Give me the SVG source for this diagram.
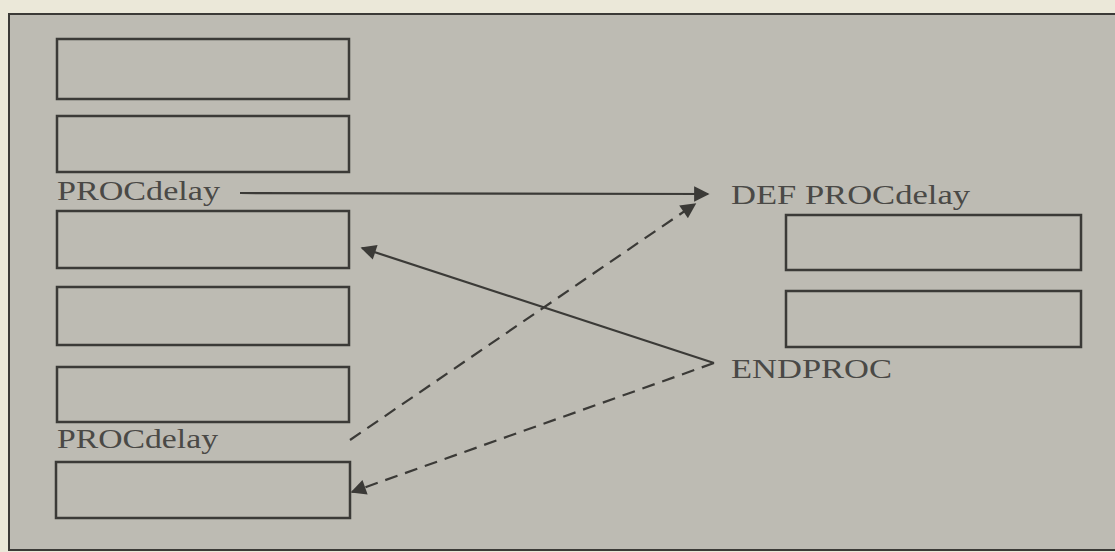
<svg xmlns="http://www.w3.org/2000/svg" width="1115" height="552" viewBox="0 0 1115 552">
<style>
.box{fill:none;stroke:#3b3a37;stroke-width:2.5}
.lbl{font-family:"Liberation Serif","Times New Roman",serif;font-size:28px;fill:#4a4946}
.ln{fill:none;stroke:#3b3a37;stroke-width:2.2}
.dash{stroke-dasharray:13 8}
</style>
<defs>
<marker id="ah" viewBox="0 0 10 10" refX="9" refY="5" markerWidth="7.5" markerHeight="7" markerUnits="strokeWidth" orient="auto">
<path d="M0,0 L10,5 L0,10 z" fill="#3b3a37"/>
</marker>
</defs>
<rect x="0" y="0" width="1115" height="552" fill="#ebe8d9"/>
<rect x="9" y="14" width="1120" height="536" fill="#bdbbb3" stroke="#3b3a37" stroke-width="2"/>
<g id="left-1"><rect class="box" x="57" y="39" width="292" height="60"/></g>
<g id="left-2"><rect class="box" x="57" y="116" width="292" height="56"/></g>
<g id="call-1"><text class="lbl" x="57" y="200" textLength="163" lengthAdjust="spacingAndGlyphs">PROCdelay</text></g>
<g id="left-3"><rect class="box" x="57" y="211" width="292" height="57"/></g>
<g id="left-4"><rect class="box" x="57" y="287" width="292" height="58"/></g>
<g id="left-5"><rect class="box" x="57" y="367" width="292" height="55"/></g>
<g id="call-2"><text class="lbl" x="57" y="448" textLength="161" lengthAdjust="spacingAndGlyphs">PROCdelay</text></g>
<g id="left-6"><rect class="box" x="56" y="462" width="294" height="56"/></g>
<g id="def"><text class="lbl" x="731" y="204" textLength="239" lengthAdjust="spacingAndGlyphs">DEF PROCdelay</text></g>
<g id="right-1"><rect class="box" x="786" y="215" width="295" height="55"/></g>
<g id="right-2"><rect class="box" x="786" y="291" width="295" height="56"/></g>
<g id="endproc"><text class="lbl" x="731" y="378" textLength="161" lengthAdjust="spacingAndGlyphs">ENDPROC</text></g>
<g id="connectors">
<line class="ln" x1="240" y1="193" x2="708" y2="194" marker-end="url(#ah)"/>
<line class="ln dash" x1="350" y1="440" x2="695" y2="204" marker-end="url(#ah)"/>
<line class="ln" x1="714" y1="363" x2="362" y2="248" marker-end="url(#ah)"/>
<line class="ln dash" x1="714" y1="363" x2="352" y2="492" marker-end="url(#ah)"/>
</g>
</svg>
